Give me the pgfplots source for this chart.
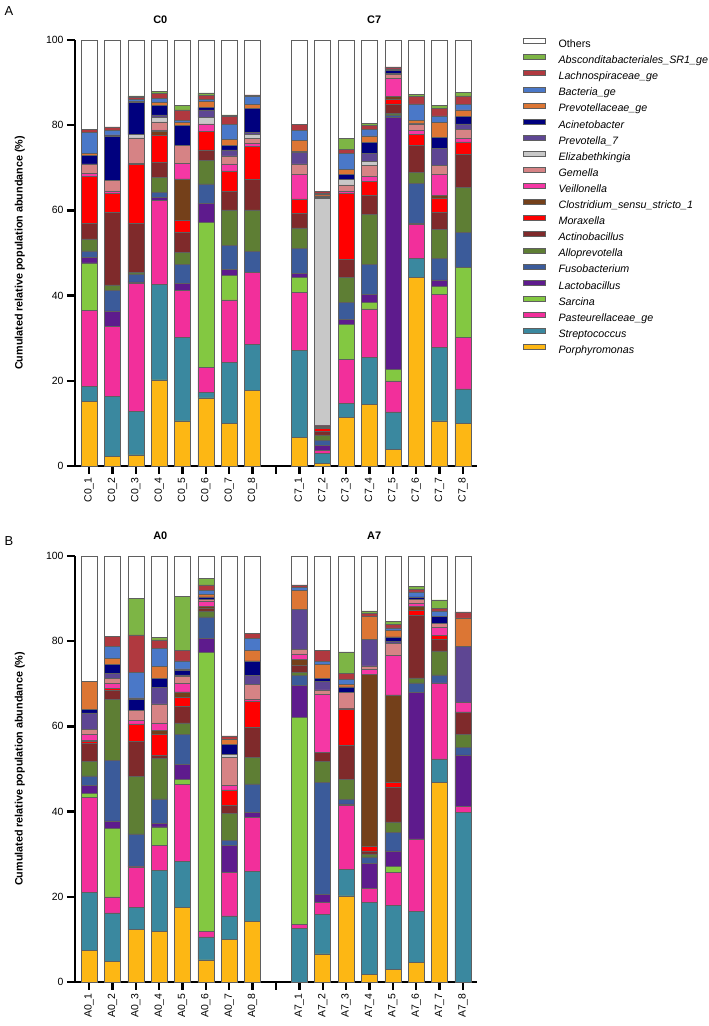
\documentclass[border=0pt]{standalone}
\usepackage{fontspec}
\setmainfont{Liberation Sans}
\usepackage{pgfplots}
\usepackage{pgfplotstable}
\pgfplotsset{compat=1.18}

\definecolor{cPor}{RGB}{253,183,20}
\definecolor{cStr}{RGB}{58,136,159}
\definecolor{cPas}{RGB}{242,47,155}
\definecolor{cSar}{RGB}{131,200,65}
\definecolor{cLac}{RGB}{94,27,141}
\definecolor{cFus}{RGB}{59,91,154}
\definecolor{cAll}{RGB}{94,126,52}
\definecolor{cAct}{RGB}{127,42,43}
\definecolor{cMor}{RGB}{255,0,0}
\definecolor{cClo}{RGB}{116,64,26}
\definecolor{cVei}{RGB}{245,56,165}
\definecolor{cGem}{RGB}{214,131,133}
\definecolor{cEli}{RGB}{200,200,200}
\definecolor{cPrs}{RGB}{94,70,147}
\definecolor{cAci}{RGB}{0,0,126}
\definecolor{cPvc}{RGB}{220,118,52}
\definecolor{cBac}{RGB}{74,120,200}
\definecolor{cLch}{RGB}{176,57,63}
\definecolor{cAbs}{RGB}{125,181,69}
\definecolor{cEdge}{RGB}{95,95,95}

% Panel A: C0 (x=0..7) and C7 (x=9..16)
\pgfplotstableread{
x  Por  Str  Pas  Sar  Lac  Fus  All  Act  Mor  Clo  Vei  Gem  Eli  Prs  Aci  Pvc  Bac  Lch  Abs  Oth
0  15.2 3.5  17.8 11.2 1.2  1.6  2.8  3.6  11.0 0    0.8  2.2  0    0    2.0  0.5  5.0  0.6  0    21.0
1  2.2  14.1 16.4 0    3.7  4.9  1.2  17.0 4.5  0    0.6  2.4  0    0    10.5 0.2  1.1  0.8  0    20.4
2  2.6  10.2 30.1 0    0.3  1.9  0.4  11.5 13.8 0    0.3  5.9  0.8  0    7.5  0.3  0.5  0.5  0.3  13.1
3  20.2 22.5 19.7 0    0.6  1.2  3.5  3.6  6.4  0.8  0.4  1.9  1.0  0.6  2.3  0.7  0.9  1.1  0.5  12.1
4  10.6 19.6 11.0 0    1.7  4.5  2.7  4.8  2.7  9.8  3.6  4.3  0    0    4.6  0.7  0.6  2.4  1.1  15.3
5  16.0 1.3  5.9  33.9 4.6  4.5  5.6  2.4  4.3  0    1.8  0    1.5  1.8  0.6  1.4  0.4  1.0  0.6  12.4
6  10.0 14.3 14.7 5.7  1.5  5.5  8.4  4.3  4.9  0    1.6  1.9  0    1.4  1.0  1.5  3.5  1.8  0.4  17.6
7  17.8 10.8 16.9 0    0    4.8  9.8  7.2  7.7  0    0.7  1.2  1.0  0.4  5.6  0.9  1.9  0.4  0    12.9
9  6.7  20.5 13.5 3.5  1.0  5.9  4.8  3.4  3.4  0    5.7  2.5  0    2.7  0.3  2.5  2.4  1.4  0    19.8
10 0.6  2.3  0.8  0    1.2  1.2  1.2  0.8  0.8  0.3  0.2  0.2  53.2 0.3  0.3  0.3  0.3  0.5  0    35.5
11 11.4 3.3  10.3 8.3  1.1  4.0  5.8  4.3  15.5 0    0.6  1.4  1.3  0    1.2  1.1  3.8  1.0  2.5  23.1
12 14.5 11.0 11.4 1.5  1.8  7.2  11.6 4.6  3.2  0    1.2  2.5  1.0  1.9  2.5  1.6  1.6  0.9  0.4  19.6
13 3.9  8.8  7.3  2.7  59.2 0.5  0.4  2.2  1.0  0.7  4.3  1.0  0    0.2  0.6  0    0.4  0.5  0    6.3
14 44.3 4.4  8.0  0    0.3  9.3  2.6  6.4  2.5  0    1.0  1.5  0    0    0.2  0.6  3.9  1.7  0.5  12.8
15 10.6 17.3 12.4 1.8  1.6  5.0  6.9  3.9  3.3  0.8  4.9  2.0  0    4.1  2.5  3.6  1.5  1.8  0.6  15.4
16 10.0 8.1  12.1 16.4 0    8.2  10.6 7.8  2.9  0    0.8  2.1  0    1.3  1.7  1.6  1.3  2.0  0.8  12.3
}\tabA

% Panel B: A0 (x=0..7) and A7 (x=9..16)
\pgfplotstableread{
x  Por  Str  Pas  Sar  Lac  Fus  All  Act  Mor  Clo  Vei  Gem  Eli  Prs  Aci  Pvc  Bac  Lch  Abs  Oth
0  7.5  13.5 22.3 1.0  1.8  2.3  3.4  4.2  0.5  0.3  1.3  1.2  0    3.9  0.8  6.5  0    0    0    29.5
1  4.8  11.4 3.8  16.0 1.8  14.2 14.3 2.1  0.5  0    1.2  1.2  0    1.1  2.2  1.4  2.7  2.4  0    18.9
2  12.3 5.2  9.5  0    0.2  7.6  13.5 8.2  4.1  0    0.9  2.2  0    0    2.6  0.4  6.0  8.8  8.6  9.9
3  11.8 14.4 5.9  4.3  0.8  5.8  9.5  0.7  5.0  0.8  1.8  4.5  0    3.9  2.1  2.8  4.3  1.9  0.6  19.1
4  17.6 10.7 18.1 1.1  3.5  7.1  2.7  3.9  2.1  1.3  2.0  1.7  0    0.3  1.0  0.4  1.9  2.4  12.7 9.5
5  5.2  5.4  1.2  65.5 3.4  5.0  1.4  0.6  0    0.4  1.2  0.6  0    0    0.5  0.6  1.0  1.2  1.6  5.2
6  10.0 5.5  10.3 0    6.3  1.2  6.2  2.0  3.6  0    1.0  6.7  0.6  0    2.3  1.4  0    0.7  0    42.2
7  14.3 11.7 12.7 0    1.2  6.6  6.3  7.0  6.2  0    0.4  3.4  0    2.1  3.5  2.4  2.9  1.2  0    18.1
9  0    12.6 0.9  48.7 7.4  2.3  0.8  1.7  0    1.3  1.3  1.0  0    9.4  0    4.6  0.6  0.6  0    6.8
10 6.6  9.2  2.9  0    1.8  26.3 5.0  2.1  0    0    13.6 1.1  0    2.0  0.7  3.3  0.6  2.6  0    22.2
11 20.2 6.3  15.0 0    0.3  1.1  4.6  8.0  8.6  0    0.2  3.7  0    0    1.3  0.6  1.2  1.4  5.0  22.5
12 1.8  16.9 3.3  0    5.8  1.6  0.7  0.7  1.1  40.3 1.2  0.8  0    6.2  0    5.5  0    0.7  0.5  12.9
13 3.0  14.9 7.8  1.5  3.6  4.3  2.5  8.0  1.2  20.6 9.2  2.9  0    0.4  1.1  1.6  0.5  0.9  0.6  15.4
14 4.6  12.0 17.0 0    34.3 2.3  1.2  14.7 1.2  0.8  0.8  1.0  0    0    0.5  0    1.2  0.6  0.6  7.2
15 46.8 5.6  17.8 0    0    1.9  5.6  2.8  0.9  0    1.8  1.0  0    0    1.6  0    1.3  0.6  2.0  10.3
16 0    39.9 1.3  0    12.1 1.8  3.1  5.2  0    0    2.3  0    0    13.0 0    6.8  0    1.4  0    13.1
}\tabB

\newcommand{\stackbars}[1]{%
  \addplot[fill=cPor] table[x=x,y=Por]{#1};
  \addplot[fill=cStr] table[x=x,y=Str]{#1};
  \addplot[fill=cPas] table[x=x,y=Pas]{#1};
  \addplot[fill=cSar] table[x=x,y=Sar]{#1};
  \addplot[fill=cLac] table[x=x,y=Lac]{#1};
  \addplot[fill=cFus] table[x=x,y=Fus]{#1};
  \addplot[fill=cAll] table[x=x,y=All]{#1};
  \addplot[fill=cAct] table[x=x,y=Act]{#1};
  \addplot[fill=cMor] table[x=x,y=Mor]{#1};
  \addplot[fill=cClo] table[x=x,y=Clo]{#1};
  \addplot[fill=cVei] table[x=x,y=Vei]{#1};
  \addplot[fill=cGem] table[x=x,y=Gem]{#1};
  \addplot[fill=cEli] table[x=x,y=Eli]{#1};
  \addplot[fill=cPrs] table[x=x,y=Prs]{#1};
  \addplot[fill=cAci] table[x=x,y=Aci]{#1};
  \addplot[fill=cPvc] table[x=x,y=Pvc]{#1};
  \addplot[fill=cBac] table[x=x,y=Bac]{#1};
  \addplot[fill=cLch] table[x=x,y=Lch]{#1};
  \addplot[fill=cAbs] table[x=x,y=Abs]{#1};
  \addplot[fill=white] table[x=x,y=Oth]{#1};
}

\pgfplotsset{
  panel/.style={
    scale only axis,
    width=402bp, height=426bp,
    anchor=south west,
    ybar stacked,
    bar width=16bp,
    xmin=-0.6, xmax=16.6,
    ymin=0, ymax=100,
    enlargelimits=false,
    clip=false,
    axis lines=left,
    every outer x axis line/.append style={-, line width=2.4bp, black},
    every outer y axis line/.append style={-, line width=2.4bp, black},
    tick align=outside,
    major tick length=8bp,
    tick style={line width=2.4bp, black},
    xtick={0,...,16},
    ytick={0,20,40,60,80,100},
    /pgf/number format/assume math mode=true,
    tick label style={font=\fontsize{10.5}{12}\selectfont},
    x tick label style={rotate=90, anchor=east},
    ylabel={Cumulated relative population abundance (\%)},
    every axis y label/.style={at={(axis description cs:-0.137,0.5)}, rotate=90, anchor=center, font=\bfseries\fontsize{10.8}{12}\selectfont},
    every axis plot/.append style={draw=cEdge, line width=0.5bp},
    every axis plot post/.append style={legend image code/.code={\draw[##1,line width=0.6bp] (0bp,1bp) rectangle (22bp,6bp);}},
  }
}

\begin{document}
\begin{tikzpicture}
\useasboundingbox (0,0) rectangle (709bp,1026bp);
\node[font=\fontsize{13}{15}\selectfont] at (9bp,1015bp) {A};
\node[font=\fontsize{13}{15}\selectfont] at (9bp,485bp) {B};

\begin{axis}[panel, at={(75bp,560bp)},
  xticklabels={C0\_1,C0\_2,C0\_3,C0\_4,C0\_5,C0\_6,C0\_7,C0\_8,{},C7\_1,C7\_2,C7\_3,C7\_4,C7\_5,C7\_6,C7\_7,C7\_8},
  reverse legend,
  legend style={at={(1.1144,1.004)}, anchor=north west, draw=none, fill=none,
    inner sep=0pt, outer sep=0pt, row sep=4.3bp, column sep=13bp,
    font=\fontsize{10.75}{12}\selectfont,
    nodes={inner sep=0pt, text height=8.5bp, text depth=2.5bp}},
  legend cell align=left,
  legend entries={\textit{Porphyromonas},\textit{Streptococcus},\textit{Pasteurellaceae\_ge},\textit{Sarcina},\textit{Lactobacillus},\textit{Fusobacterium},\textit{Alloprevotella},\textit{Actinobacillus},\textit{Moraxella},\textit{Clostridium\_sensu\_stricto\_1},\textit{Veillonella},\textit{Gemella},\textit{Elizabethkingia},\textit{Prevotella\_7},\textit{Acinetobacter},\textit{Prevotellaceae\_ge},\textit{Bacteria\_ge},\textit{Lachnospiraceae\_ge},\textit{Absconditabacteriales\_SR1\_ge},Others},
]
\stackbars{\tabA}
\node[font=\bfseries\fontsize{11}{13}\selectfont] at (axis cs:3.05,100) [yshift=20bp] {C0};
\node[font=\bfseries\fontsize{11}{13}\selectfont] at (axis cs:12.2,100) [yshift=20bp] {C7};
\end{axis}

\begin{axis}[panel, at={(75bp,44bp)},
  xticklabels={A0\_1,A0\_2,A0\_3,A0\_4,A0\_5,A0\_6,A0\_7,A0\_8,{},A7\_1,A7\_2,A7\_3,A7\_4,A7\_5,A7\_6,A7\_7,A7\_8},
]
\stackbars{\tabB}
\node[font=\bfseries\fontsize{11}{13}\selectfont] at (axis cs:3.05,100) [yshift=20bp] {A0};
\node[font=\bfseries\fontsize{11}{13}\selectfont] at (axis cs:12.2,100) [yshift=20bp] {A7};
\end{axis}
\end{tikzpicture}
\end{document}
